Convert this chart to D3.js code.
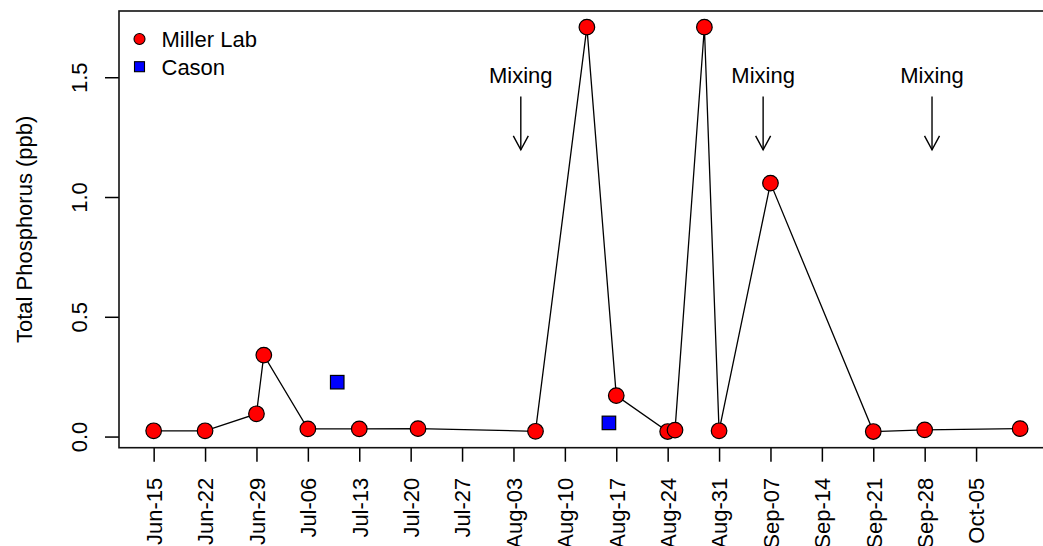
<!DOCTYPE html>
<html>
<head>
<meta charset="utf-8">
<script src="https://cdn.jsdelivr.net/npm/d3@7"></script>
<style>
  body { margin: 0; background: #fff; }
  svg { display: block; }
  text { font-family: "Liberation Sans", Arial, Helvetica, sans-serif; fill: #000; }
</style>
</head>
<body>
<svg id="chart" width="1043" height="546"></svg>
<script>
// Total phosphorus samples, 2015 season
const millerDates = ["2015-06-15", "2015-06-22", "2015-06-29", "2015-06-30", "2015-07-06",
                     "2015-07-13", "2015-07-21", "2015-08-06", "2015-08-13", "2015-08-17",
                     "2015-08-24", "2015-08-25", "2015-08-29", "2015-08-31", "2015-09-07",
                     "2015-09-21", "2015-09-28", "2015-10-11"];
const millerTP = [0.024, 0.024, 0.095, 0.340, 0.032,
                  0.032, 0.033, 0.022, 1.709, 0.171,
                  0.021, 0.027, 1.709, 0.024, 1.058,
                  0.021, 0.028, 0.033];

const casonDates = ["2015-07-10", "2015-08-16"];
const casonTP = [0.227, 0.057];

const tickDates = ["2015-06-15", "2015-06-22", "2015-06-29", "2015-07-06", "2015-07-13",
                   "2015-07-20", "2015-07-27", "2015-08-03", "2015-08-10", "2015-08-17",
                   "2015-08-24", "2015-08-31", "2015-09-07", "2015-09-14", "2015-09-21",
                   "2015-09-28", "2015-10-05"];
const yTicks = [0, 0.5, 1.0, 1.5];

// Lake mixing events: arrow from top to bottom value, label above
const mixingDates = ["2015-08-04", "2015-09-06", "2015-09-29"];
const mixingArrow = [1.42, 1.197];
const mixingTextY = 1.475;

const legendNames = ["Miller Lab", "Cason"];

const parse = d3.timeParse("%Y-%m-%d");
const fmt = d3.timeFormat("%b-%d");

const miller = millerDates.map((d, i) => ({ date: parse(d), v: millerTP[i] }));
const cason = casonDates.map((d, i) => ({ date: parse(d), v: casonTP[i] }));
const allPts = miller.concat(cason);

// Plot region (right edge runs past the page)
const plot = { left: 119, top: 11, bottom: 447.7 };
const pxPerDay = 7.343;

// Extend data ranges by 4% on each side
const dExt = d3.extent(allPts, d => d.date);
const spanDays = (dExt[1] - dExt[0]) / 864e5;
const padMs = spanDays * 0.04 * 864e5;
const xDomain = [new Date(+dExt[0] - padMs), new Date(+dExt[1] + padMs)];
plot.right = plot.left + spanDays * 1.08 * pxPerDay;

const vExt = d3.extent(allPts, d => d.v);
const vPad = (vExt[1] - vExt[0]) * 0.04;

const x = d3.scaleTime().domain(xDomain).range([plot.left, plot.right]);
const y = d3.scaleLinear().domain([vExt[0] - vPad, vExt[1] + vPad]).range([plot.bottom, plot.top]);

const svg = d3.select("#chart");
const FS = 22;

// Axes
const xAxis = d3.axisBottom(x)
  .tickValues(tickDates.map(parse))
  .tickFormat(fmt)
  .tickSize(14)
  .tickSizeOuter(0);
const gx = svg.append("g").attr("transform", `translate(0,${plot.bottom})`).call(xAxis);
gx.select(".domain").remove();
gx.selectAll(".tick line").attr("stroke", "#000").attr("stroke-width", 1.5);
gx.selectAll(".tick text")
  .attr("font-size", FS)
  .attr("font-family", "Liberation Sans, Arial, sans-serif")
  .attr("fill", "#000")
  .attr("transform", "rotate(-90)")
  .attr("text-anchor", "end")
  .attr("x", -30)
  .attr("y", 0)
  .attr("dy", "0.36em");

const yAxis = d3.axisLeft(y).tickValues(yTicks).tickFormat(d3.format(".1f")).tickSize(14).tickSizeOuter(0);
const gy = svg.append("g").attr("transform", `translate(${plot.left},0)`).call(yAxis);
gy.select(".domain").remove();
gy.selectAll(".tick line").attr("stroke", "#000").attr("stroke-width", 1.5);
gy.selectAll(".tick text")
  .attr("font-size", FS)
  .attr("font-family", "Liberation Sans, Arial, sans-serif")
  .attr("fill", "#000")
  .attr("transform", "rotate(-90)")
  .attr("text-anchor", "middle")
  .attr("x", 0)
  .attr("y", 0)
  .attr("dy", 0)
  .each(function() {
    // place each rotated label so its baseline sits at a fixed distance left of the axis
    const t = d3.select(this.parentNode).attr("transform");
    const ty = +t.match(/,\s*([-\d.]+)\)/)[1];
    d3.select(this).attr("transform", `translate(${87 - plot.left},0) rotate(-90)`);
  });

// Y axis title
svg.append("text")
  .attr("transform", `translate(32,${(plot.top + plot.bottom) / 2}) rotate(-90)`)
  .attr("text-anchor", "middle")
  .attr("font-size", FS)
  .text("Total Phosphorus (ppb)");

// Plot box
svg.append("rect")
  .attr("x", plot.left).attr("y", plot.top)
  .attr("width", plot.right - plot.left).attr("height", plot.bottom - plot.top)
  .attr("fill", "none").attr("stroke", "#111").attr("stroke-width", 1.6);

// Miller Lab series: line + circles
const line = d3.line().x(d => x(d.date)).y(d => y(d.v));
svg.append("path").datum(miller)
  .attr("d", line).attr("fill", "none").attr("stroke", "#000").attr("stroke-width", 1.3);

svg.append("g").selectAll("circle").data(miller).join("circle")
  .attr("cx", d => x(d.date)).attr("cy", d => y(d.v)).attr("r", 7.8)
  .attr("fill", "#ff0000").attr("stroke", "#000").attr("stroke-width", 1.2);

// Cason series: squares
const sq = 13.5;
svg.append("g").selectAll("rect").data(cason).join("rect")
  .attr("x", d => x(d.date) - sq / 2).attr("y", d => y(d.v) - sq / 2)
  .attr("width", sq).attr("height", sq)
  .attr("fill", "#0000ff").attr("stroke", "#000").attr("stroke-width", 1.2);

// Mixing annotations
const mix = svg.append("g");
mixingDates.map(parse).forEach(d => {
  const mx = x(d);
  mix.append("text")
    .attr("x", mx).attr("y", y(mixingTextY))
    .attr("text-anchor", "middle").attr("font-size", FS)
    .text("Mixing");
  const y0 = y(mixingArrow[0]), y1 = y(mixingArrow[1]);
  mix.append("line")
    .attr("x1", mx).attr("x2", mx).attr("y1", y0).attr("y2", y1)
    .attr("stroke", "#000").attr("stroke-width", 1.4);
  mix.append("path")
    .attr("d", `M${mx - 7.5},${y1 - 14} L${mx},${y1} L${mx + 7.5},${y1 - 14}`)
    .attr("fill", "none").attr("stroke", "#000").attr("stroke-width", 1.4);
});

// Legend
const leg = svg.append("g");
leg.append("circle").attr("cx", 139.5).attr("cy", 39).attr("r", 5.5)
  .attr("fill", "#ff0000").attr("stroke", "#000").attr("stroke-width", 1.1);
leg.append("rect").attr("x", 134.5).attr("y", 61.7).attr("width", 10).attr("height", 10)
  .attr("fill", "#0000ff").attr("stroke", "#000").attr("stroke-width", 1.1);
leg.selectAll("text").data(legendNames).join("text")
  .attr("x", 161.5).attr("y", (d, i) => 46.8 + i * 27.7)
  .attr("font-size", FS)
  .text(d => d);
</script>
</body>
</html>
